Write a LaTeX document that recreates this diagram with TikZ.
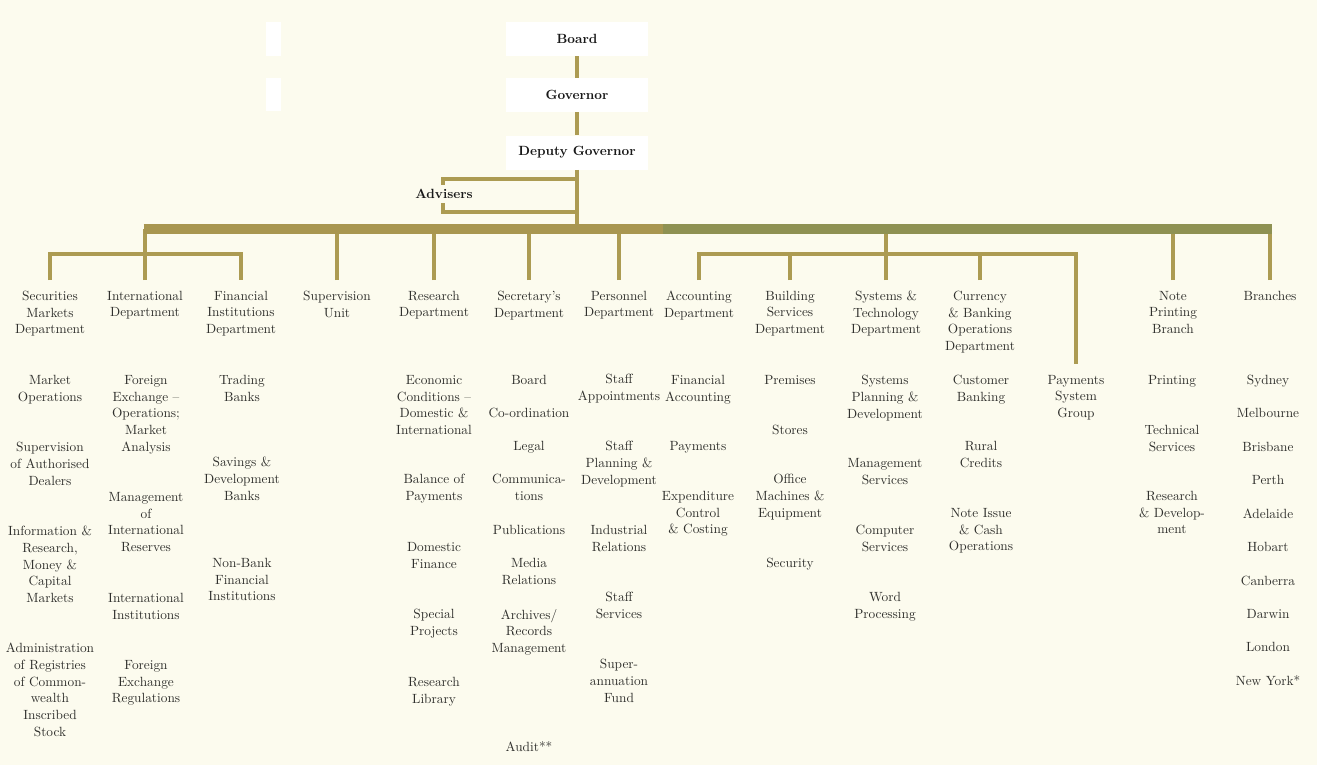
\documentclass[tikz,border=0pt]{standalone}
\usepackage{fontspec}
\definecolor{paper}{HTML}{FCFBEE}
\definecolor{gold}{HTML}{AC9B52}
\definecolor{goldbar}{HTML}{A89650}
\definecolor{olivebar}{HTML}{8E9152}
\definecolor{ink}{HTML}{2F2F2C}
\begin{document}
\begin{tikzpicture}[x=0.75pt,y=-0.75pt,
    chief/.style={fill=white,text=black!90,font=\bfseries,minimum width=107pt,minimum height=25.5pt,inner sep=0pt},
    dept/.style={anchor=north,align=center,inner sep=0pt,outer ysep=8.25pt,text=ink,font=\fontsize{10}{12.5}\selectfont},
    item/.style={anchor=north,align=center,inner sep=0pt,text=ink,font=\fontsize{10}{12.5}\selectfont},
    link/.style={draw=gold,line width=2.5pt},
    bar/.style={line width=7.5pt}]
    \useasboundingbox (0,0) rectangle (1317,765);
    \fill[paper] (0,0) rectangle (1317,765);
    % white marks at the left
    \fill[white] (266,22) rectangle (281,56);
    \fill[white] (266,78) rectangle (281,111);

    % top of the chart
    \node[chief] (board) at (577,39) {Board};
    \node[chief] (governor) at (577,95) {Governor};
    \node[chief] (deputy) at (577,152.5) {Deputy Governor};

    \coordinate (hub) at (577,229);
    \coordinate (barL) at (143.5,229);
    \coordinate (seam) at (663,229);
    \coordinate (barR) at (1271.5,229);
    \coordinate (advA) at (577,179);
    \coordinate (advB) at (443,179);
    \coordinate (advC) at (443,212);
    \coordinate (advD) at (577,212);
    \coordinate (subL) at (145,254);
    \coordinate (subR) at (886,254);

    \draw[link] (board) -- (governor);
    \draw[link] (governor) -- (deputy);
    \draw[link] (deputy) -- (hub);
    \draw[link] (advA) -- (advB) -- (advC) -- (advD);
    \node[font=\bfseries,text=black!90,fill=paper,inner xsep=1pt,inner ysep=3.3pt] (advisers) at (444,194) {Advisers};

    % departments
    \node[dept] (securities) at (50,280) {Securities\\Markets\\Department};
    \node[dept] (international) at (145,280) {International\\Department};
    \node[dept] (fininst) at (241,280) {Financial\\Institutions\\Department};
    \node[dept] (supervision) at (337,280) {Supervision\\Unit};
    \node[dept] (research) at (434,280) {Research\\Department};
    \node[dept] (secretary) at (529,280) {Secretary's\\Department};
    \node[dept] (personnel) at (619,280) {Personnel\\Department};
    \node[dept] (accounting) at (699,280) {Accounting\\Department};
    \node[dept] (building) at (790,280) {Building\\Services\\Department};
    \node[dept] (systems) at (886,280) {Systems \&\\Technology\\Department};
    \node[dept] (currency) at (980,280) {Currency\\\& Banking\\Operations\\Department};
    \node[dept] (payments) at (1076,364) {Payments\\System\\Group};
    \node[dept] (noteprint) at (1173,280) {Note\\Printing\\Branch};
    \node[dept] (branches) at (1270,280) {Branches};

    \draw[link] (international.north) -- (international.north |- barL);
    \draw[link] (securities.north) |- (subL) -| (fininst.north);
    \draw[link] (supervision.north) -- (supervision.north |- barL);
    \draw[link] (research.north) -- (research.north |- barL);
    \draw[link] (secretary.north) -- (secretary.north |- barL);
    \draw[link] (personnel.north) -- (personnel.north |- barL);
    \draw[link] (systems.north) -- (systems.north |- barL);
    \draw[link] (accounting.north) |- (subR) -| (payments.north);
    \draw[link] (building.north) -- (building.north |- subR);
    \draw[link] (currency.north) -- (currency.north |- subR);
    \draw[link] (noteprint.north) -- (noteprint.north |- barL);
    \draw[link] (branches.north) -- (branches.north |- barL);

    \draw[bar,goldbar] (barL) -- (seam);
    \draw[bar,olivebar] (seam) -- (barR);

    % sections
    \node[item] (mktops) at (50,375) {Market\\Operations};
    \node[item] (supdealers) at (50,442) {Supervision\\of Authorised\\Dealers};
    \node[item] (inforesearch) at (50,526) {Information \&\\Research,\\Money \&\\Capital\\Markets};
    \node[item] (registries) at (50,643) {Administration\\of Registries\\of Common-\\wealth\\Inscribed\\Stock};

    \node[item] (fxops) at (146,375) {Foreign\\Exchange --\\Operations;\\Market\\Analysis};
    \node[item] (reserves) at (146,492) {Management\\of\\International\\Reserves};
    \node[item] (intinst) at (146,593) {International\\Institutions};
    \node[item] (fxregs) at (146,660) {Foreign\\Exchange\\Regulations};

    \node[item] (trading) at (242,375) {Trading\\Banks};
    \node[item] (savings) at (242,457) {Savings \&\\Development\\Banks};
    \node[item] (nonbank) at (242,558) {Non-Bank\\Financial\\Institutions};

    \node[item] (econ) at (434,375) {Economic\\Conditions --\\Domestic \&\\International};
    \node[item] (balance) at (434,474) {Balance of\\Payments};
    \node[item] (domfin) at (434,542) {Domestic\\Finance};
    \node[item] (special) at (434,609) {Special\\Projects};
    \node[item] (library) at (434,677) {Research\\Library};

    \node[item] (boardsec) at (529,375) {Board};
    \node[item] (coord) at (529,408) {Co-ordination};
    \node[item] (legal) at (529,441) {Legal};
    \node[item] (comms) at (529,474) {Communica-\\tions};
    \node[item] (pubs) at (529,525) {Publications};
    \node[item] (media) at (529,558) {Media\\Relations};
    \node[item] (archives) at (529,609) {Archives/\\Records\\Management};
    \node[item] (audit) at (529,741) {Audit**};

    \node[item] (appoint) at (619,374) {Staff\\Appointments};
    \node[item] (planning) at (619,441) {Staff\\Planning \&\\Development};
    \node[item] (industrial) at (619,525) {Industrial\\Relations};
    \node[item] (staffserv) at (619,592) {Staff\\Services};
    \node[item] (superfund) at (619,659) {Super-\\annuation\\Fund};

    \node[item] (finacc) at (698,375) {Financial\\Accounting};
    \node[item] (paydesk) at (698,441) {Payments};
    \node[item] (expend) at (698,491) {Expenditure\\Control\\\& Costing};

    \node[item] (premises) at (790,375) {Premises};
    \node[item] (stores) at (790,425) {Stores};
    \node[item] (office) at (790,474) {Office\\Machines \&\\Equipment};
    \node[item] (security) at (790,558) {Security};

    \node[item] (sysplan) at (885,375) {Systems\\Planning \&\\Development};
    \node[item] (mgmt) at (885,458) {Management\\Services};
    \node[item] (computer) at (885,525) {Computer\\Services};
    \node[item] (wordproc) at (885,592) {Word\\Processing};

    \node[item] (customer) at (981,375) {Customer\\Banking};
    \node[item] (rural) at (981,441) {Rural\\Credits};
    \node[item] (noteissue) at (981,508) {Note Issue\\\& Cash\\Operations};

    \node[item] (printing) at (1172,375) {Printing};
    \node[item] (technical) at (1172,425) {Technical\\Services};
    \node[item] (rnd) at (1172,491) {Research\\\& Develop-\\ment};

    \foreach \city [count=\i from 0] in {Sydney,Melbourne,Brisbane,Perth,Adelaide,Hobart,Canberra,Darwin,London,New York*}
        \node[item] (city\i) at (1268,375+33.4*\i) {\city};
\end{tikzpicture}
\end{document}
